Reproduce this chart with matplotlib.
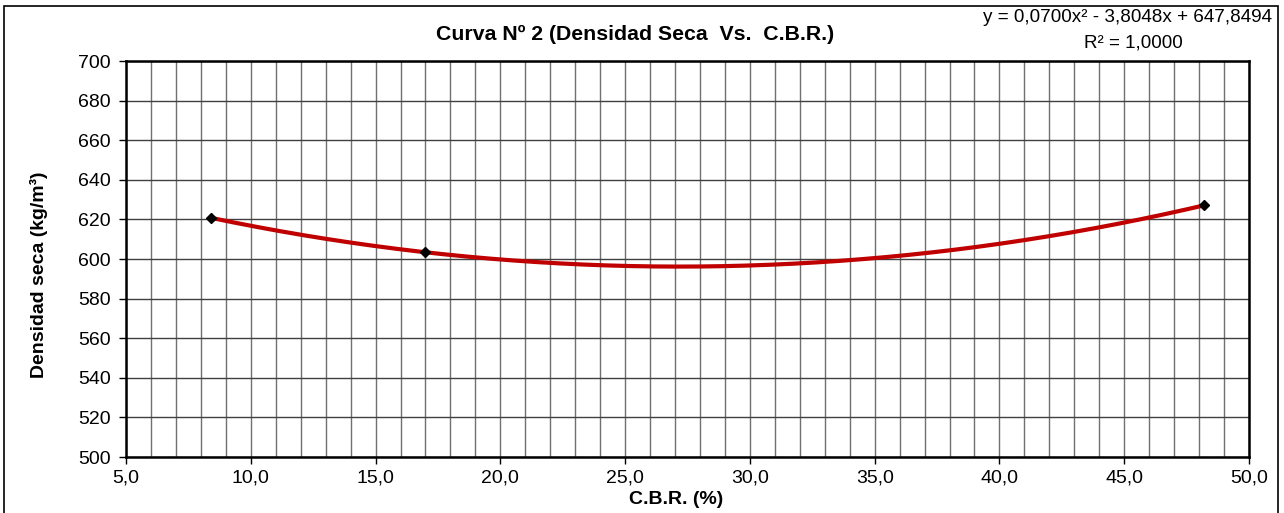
import numpy as np
import matplotlib
matplotlib.use('Agg')
import matplotlib.pyplot as plt
from matplotlib.patches import Rectangle
from matplotlib.ticker import MultipleLocator, FuncFormatter

plt.rcParams['font.family'] = ['Liberation Sans', 'DejaVu Sans']

# datos
cbr = [8.4, 17.0, 48.2]
densidad = [620.8, 603.4, 627.1]
x_ticks = [5.0, 10.0, 15.0, 20.0, 25.0, 30.0, 35.0, 40.0, 45.0, 50.0]
y_ticks = [500, 520, 540, 560, 580, 600, 620, 640, 660, 680, 700]

titulo = 'Curva Nº 2 (Densidad Seca  Vs.  C.B.R.)'
ecuacion = 'y = 0,0700x² - 3,8048x + 647,8494'
r2 = 'R² = 1,0000'

W, H = 1284, 513
fig = plt.figure(figsize=(W / 100, H / 100), dpi=100)
ax = fig.add_axes([126 / W, 56 / H, 1123 / W, 396 / H])

# marco exterior del grafico
fig.patches.append(Rectangle((4 / W, -0.05), 1274 / W, 1.0 - 6 / H + 0.05,
                             transform=fig.transFigure, fill=False,
                             edgecolor='black', linewidth=1.2))

# linea de tendencia polinomica (orden 2)
coef = np.polyfit(cbr, densidad, 2)
xs = np.linspace(min(cbr), max(cbr), 300)
ax.plot(xs, np.polyval(coef, xs), color='#C00000', linewidth=3, zorder=3)
ax.plot(cbr, densidad, linestyle='none', marker='D', markersize=5.5,
        color='black', zorder=4)

ax.set_xlim(x_ticks[0], x_ticks[-1])
ax.set_ylim(y_ticks[0], y_ticks[-1])
ax.set_xticks(x_ticks)
ax.set_yticks(y_ticks)
ax.xaxis.set_minor_locator(MultipleLocator(1))
ax.xaxis.set_major_formatter(FuncFormatter(lambda v, p: f'{v:.1f}'.replace('.', ',')))
ax.grid(which='both', axis='x', color='#707070', linewidth=1)
ax.grid(which='major', axis='y', color='#404040', linewidth=1)
ax.set_axisbelow(True)
ax.tick_params(axis='both', which='major', labelsize=14, length=5, width=1,
               colors='black')
ax.tick_params(axis='y', pad=6)
ax.tick_params(axis='x', pad=4)
ax.tick_params(axis='x', which='minor', length=0)
for s in ax.spines.values():
    s.set_linewidth(1.8)
    s.set_color('black')

fig.text(676 / W, 1 - 500 / H, 'C.B.R. (%)', ha='center', va='center',
         fontsize=14, fontweight='bold')
fig.text(39 / W, 1 - 275 / H, 'Densidad seca (kg/m³)', ha='center', va='center',
         rotation=90, fontsize=14, fontweight='bold')

fig.text(635 / W, 1 - 34 / H, titulo, ha='center', va='center',
         fontsize=15.3, fontweight='bold')
fig.text(1272 / W, 1 - 18 / H, ecuacion, ha='right', va='center', fontsize=13.6)
fig.text(1133 / W, 1 - 43 / H, r2, ha='center', va='center', fontsize=13.6)

fig.savefig('out.png', dpi=100)
